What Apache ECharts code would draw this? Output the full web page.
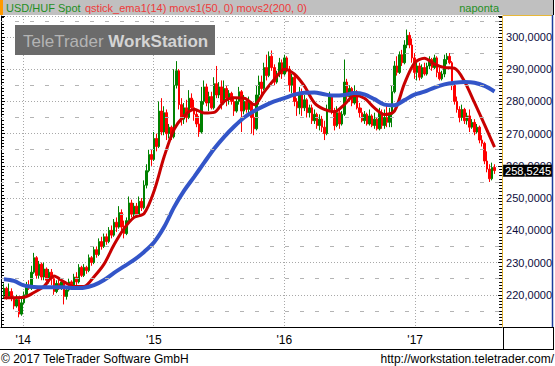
<!DOCTYPE html>
<html><head><meta charset="utf-8">
<script src="https://cdn.jsdelivr.net/npm/echarts@6/dist/echarts.min.js"></script>
<style>html,body{margin:0;padding:0;background:#fff}#c{width:555px;height:366px}</style>
</head><body><div id="c"></div>
<script>
const dates = [
'2013-11-08','2013-11-15','2013-11-22','2013-11-29','2013-12-06','2013-12-13','2013-12-20','2013-12-27',
'2014-01-03','2014-01-10','2014-01-17','2014-01-24','2014-01-31','2014-02-07','2014-02-14','2014-02-21','2014-02-28','2014-03-07','2014-03-14','2014-03-21','2014-03-28','2014-04-04','2014-04-11','2014-04-18','2014-04-25','2014-05-02','2014-05-09','2014-05-16','2014-05-23','2014-05-30','2014-06-06','2014-06-13','2014-06-20','2014-06-27','2014-07-04','2014-07-11','2014-07-18','2014-07-25','2014-08-01','2014-08-08','2014-08-15','2014-08-22','2014-08-29','2014-09-05','2014-09-12','2014-09-19','2014-09-26','2014-10-03','2014-10-10','2014-10-17','2014-10-24','2014-10-31','2014-11-07','2014-11-14','2014-11-21','2014-11-28','2014-12-05','2014-12-12','2014-12-19','2014-12-26',
'2015-01-02','2015-01-09','2015-01-16','2015-01-23','2015-01-30','2015-02-06','2015-02-13','2015-02-20','2015-02-27','2015-03-06','2015-03-13','2015-03-20','2015-03-27','2015-04-03','2015-04-10','2015-04-17','2015-04-24','2015-05-01','2015-05-08','2015-05-15','2015-05-22','2015-05-29','2015-06-05','2015-06-12','2015-06-19','2015-06-26','2015-07-03','2015-07-10','2015-07-17','2015-07-24','2015-07-31','2015-08-07','2015-08-14','2015-08-21','2015-08-28','2015-09-04','2015-09-11','2015-09-18','2015-09-25','2015-10-02','2015-10-09','2015-10-16','2015-10-23','2015-10-30','2015-11-06','2015-11-13','2015-11-20','2015-11-27','2015-12-04','2015-12-11','2015-12-18','2015-12-25',
'2016-01-01','2016-01-08','2016-01-15','2016-01-22','2016-01-29','2016-02-05','2016-02-12','2016-02-19','2016-02-26','2016-03-04','2016-03-11','2016-03-18','2016-03-25','2016-04-01','2016-04-08','2016-04-15','2016-04-22','2016-04-29','2016-05-06','2016-05-13','2016-05-20','2016-05-27','2016-06-03','2016-06-10','2016-06-17','2016-06-24','2016-07-01','2016-07-08','2016-07-15','2016-07-22','2016-07-29','2016-08-05','2016-08-12','2016-08-19','2016-08-26','2016-09-02','2016-09-09','2016-09-16','2016-09-23','2016-09-30','2016-10-07','2016-10-14','2016-10-21','2016-10-28','2016-11-04','2016-11-11','2016-11-18','2016-11-25','2016-12-02','2016-12-09','2016-12-16','2016-12-23','2016-12-30',
'2017-01-06','2017-01-13','2017-01-20','2017-01-27','2017-02-03','2017-02-10','2017-02-17','2017-02-24','2017-03-03','2017-03-10','2017-03-17','2017-03-24','2017-03-31','2017-04-07','2017-04-14','2017-04-21','2017-04-28','2017-05-05','2017-05-12','2017-05-19','2017-05-26','2017-06-02','2017-06-09','2017-06-16','2017-06-23','2017-06-30','2017-07-07','2017-07-14','2017-07-21','2017-07-28','2017-08-04','2017-08-11'];

const opens = [220.0,222.0,219.5,221.0,219.0,216.5,218.5,214.0,217.5,220.0,223.0,222.0,227.0,231.5,226.0,229.5,225.5,228.0,224.5,227.0,
225.0,221.0,223.5,222.0,224.0,219.5,221.5,224.0,222.5,225.5,224.0,228.5,226.0,228.5,227.5,231.5,230.0,234.0,232.5,236.5,
235.0,238.0,236.5,240.0,238.5,242.5,241.0,245.5,241.0,239.0,243.0,248.5,245.0,247.5,245.0,249.0,247.0,254.0,258.5,263.5,
262.0,268.5,266.0,277.0,270.5,276.5,270.0,272.0,269.0,285.0,289.5,279.0,274.5,278.0,275.0,281.0,278.0,276.0,273.0,270.5,
280.0,284.5,279.5,281.5,278.0,285.5,282.0,284.5,279.5,284.0,281.0,282.5,280.0,277.0,280.0,283.0,277.0,280.0,277.5,279.5,
275.0,271.5,282.0,286.0,284.0,290.5,288.0,294.0,290.5,286.0,288.5,292.0,288.5,293.5,290.0,285.0,287.5,280.0,278.0,282.5,
278.0,280.5,276.5,278.0,274.0,276.0,272.5,274.5,272.0,270.0,277.5,281.5,277.0,272.5,276.5,273.0,276.0,286.0,281.5,284.0,
279.5,283.0,278.0,276.5,274.0,276.0,273.0,275.5,272.5,274.5,271.5,276.5,272.5,275.0,273.5,276.0,283.0,291.0,289.0,294.5,
292.0,297.5,300.5,297.5,293.5,289.0,291.0,287.5,290.5,288.5,291.0,293.0,290.5,293.5,289.0,287.0,288.5,293.0,294.0,292.0,
285.0,280.0,277.5,275.0,277.5,274.0,275.5,272.0,273.5,270.5,272.0,268.0,267.0,261.5,259.0,256.0,259.5];
const closes = [222.0,219.5,221.0,219.0,216.5,218.5,214.0,217.5,220.0,223.0,222.0,227.0,231.5,226.0,229.5,225.5,228.0,224.5,227.0,225.0,
221.0,223.5,222.0,224.0,219.5,221.5,224.0,222.5,225.5,224.0,228.5,226.0,228.5,227.5,231.5,230.0,234.0,232.5,236.5,235.0,
238.0,236.5,240.0,238.5,242.5,241.0,245.5,241.0,239.0,243.0,248.5,245.0,247.5,245.0,249.0,247.0,254.0,258.5,263.5,262.0,
268.5,266.0,277.0,270.5,276.5,270.0,272.0,269.0,285.0,289.5,279.0,274.5,278.0,275.0,281.0,278.0,276.0,273.0,270.5,280.0,
284.5,279.5,281.5,278.0,285.5,282.0,284.5,279.5,284.0,281.0,282.5,280.0,277.0,280.0,283.0,277.0,280.0,277.5,279.5,275.0,
271.5,282.0,286.0,284.0,290.5,288.0,294.0,290.5,286.0,288.5,292.0,288.5,293.5,290.0,285.0,287.5,280.0,278.0,282.5,278.0,
280.5,276.5,278.0,274.0,276.0,272.5,274.5,272.0,270.0,277.5,281.5,277.0,272.5,276.5,273.0,276.0,286.0,281.5,284.0,279.5,
283.0,278.0,276.5,274.0,276.0,273.0,275.5,272.5,274.5,271.5,276.5,272.5,275.0,273.5,276.0,283.0,291.0,289.0,294.5,292.0,
297.5,300.5,297.5,293.5,289.0,291.0,287.5,290.5,288.5,291.0,293.0,290.5,293.5,289.0,287.0,288.5,293.0,294.0,292.0,285.0,
280.0,277.5,275.0,277.5,274.0,275.5,272.0,273.5,270.5,272.0,268.0,267.0,261.5,259.0,256.0,259.5,258.5245];
const lows = [219.0,218.5,219.0,218.0,215.5,216.0,213.0,213.5,217.0,219.5,221.5,221.5,226.5,225.0,225.0,224.5,224.5,223.5,223.5,223.0,
220.0,220.5,221.5,221.5,217.0,218.5,221.0,221.5,222.0,223.0,223.5,225.5,225.5,226.5,227.0,229.0,229.5,231.5,232.0,234.0,
234.5,235.5,236.0,237.5,238.0,239.5,240.5,240.0,237.5,238.5,242.5,244.0,244.0,244.0,244.5,246.0,246.5,253.0,258.0,260.0,
261.5,264.5,265.5,269.5,269.5,268.0,268.5,268.0,268.5,284.0,277.5,272.5,273.0,273.5,274.5,277.0,274.0,272.0,269.0,270.0,
279.0,278.5,277.0,277.5,277.5,281.0,281.0,277.5,279.0,278.5,279.0,279.0,275.5,276.5,279.0,270.5,276.0,276.5,275.5,270.0,
269.5,271.0,279.0,281.0,283.5,286.5,287.5,289.5,285.0,285.5,287.5,287.0,288.0,289.0,283.0,282.5,278.5,275.5,276.0,275.5,
277.0,275.0,275.0,273.0,273.0,271.5,271.0,270.5,268.0,269.5,277.0,276.0,271.0,272.0,271.5,272.5,275.5,280.5,280.0,278.5,
279.0,277.5,275.0,273.5,273.0,272.5,272.5,272.0,271.5,271.0,271.0,271.5,271.5,272.0,272.0,272.0,282.5,288.0,288.5,291.0,
291.5,296.5,296.5,292.0,287.0,286.5,286.5,287.0,288.0,288.0,290.0,289.5,290.0,287.5,286.5,286.5,287.5,291.5,291.5,283.5,
279.0,276.5,273.5,274.0,273.0,272.8,270.5,271.5,269.5,270.0,267.0,266.0,260.5,258.0,255.0,255.5,257.5];
const highs = [223.5,222.5,223.5,222.0,219.5,220.0,219.0,219.0,221.0,224.0,224.5,229.0,233.0,232.0,230.5,230.0,230.0,228.5,228.0,228.0,
226.0,224.5,225.0,225.0,224.5,222.5,225.0,224.5,226.5,227.0,229.5,229.0,229.5,229.0,232.5,232.0,235.0,235.0,237.5,238.0,
239.0,239.0,241.0,241.5,243.5,244.0,247.5,246.5,243.0,244.0,250.5,249.5,248.5,248.5,250.5,250.0,255.5,260.5,265.0,265.0,
270.5,270.0,280.0,281.0,278.5,277.5,273.0,272.5,290.0,292.5,290.0,281.0,279.5,280.5,283.5,282.5,280.5,277.5,275.5,284.5,
286.5,285.5,283.0,283.0,287.5,291.0,286.0,286.5,286.5,285.0,283.5,283.0,281.5,281.0,284.5,283.5,282.0,281.0,281.5,280.0,
277.0,285.0,288.0,288.0,292.0,294.5,295.5,295.8,291.5,289.5,293.5,293.0,294.5,294.0,291.0,288.5,288.0,281.0,284.5,284.0,
282.0,281.0,279.0,279.0,277.5,276.5,276.0,275.5,274.0,279.0,283.0,282.0,278.0,278.5,277.5,277.0,293.0,287.0,285.0,284.5,
285.0,283.5,279.5,278.0,277.0,276.5,277.5,276.0,276.5,275.0,278.0,277.5,277.5,279.0,278.0,285.0,292.5,294.0,295.5,296.0,
299.0,302.3,301.5,299.5,295.0,292.5,292.0,291.5,292.0,292.0,294.0,293.5,294.5,294.0,290.5,289.5,294.5,295.0,295.0,292.5,
286.0,281.5,278.5,279.0,278.0,276.5,277.5,274.5,274.5,273.0,272.5,269.5,267.5,264.5,260.5,261.0,260.5];

// moving averages, sampled at every 4th candle date
const redLine = [219.1,219.1,219.2,220.7,222.6,225.8,224.0,222.6,222.6,225.6,
229.5,235.5,240.5,244.0,245.2,252.2,262.8,271.3,275.5,277.6,
276.4,276.6,280.0,281.1,281.0,279.0,283.0,286.8,290.0,288.5,
284.8,279.6,277.5,276.8,279.0,281.8,281.0,278.0,275.9,277.0,
285.5,291.9,293.4,291.6,290.5,290.3,286.2,279.6,272.8,265.8];
const blueLine = [224.8,224.3,222.9,222.4,222.3,222.3,222.3,222.1,222.2,223.0,
224.6,226.8,228.8,230.8,233.3,236.3,241.0,247.2,252.3,256.6,
261.0,265.3,269.0,272.2,275.0,277.0,278.6,280.0,281.0,282.1,
282.7,282.8,282.2,281.8,282.0,282.6,282.2,280.7,279.0,278.8,
280.4,282.1,283.0,284.3,285.3,285.8,286.0,285.8,284.8,283.1];
const lineStep = 4;
const midLevels = [215,225,235,245,255,265,275,285,295,305];
const lastPrice = 258.5245;
const xMin = '2013-10-30 21:00:00', xMax = '2017-09-01 05:00:00';
const yMin = 210, yMax = 306.5, yStep = 10;

const FONT = '"Liberation Sans", Arial, sans-serif';
const chart = echarts.init(document.getElementById('c'), null, {renderer: 'svg'});
const candleData = dates.map((d, i) => [d, opens[i], closes[i], lows[i], highs[i]]);
const redData = redLine.map((v, k) => [dates[k * lineStep], v]);
const blueData = blueLine.map((v, k) => [dates[k * lineStep], v]);
const fmtNum = v => v.toFixed(4).replace('.', ',');
const DAY = 864e5;

const option = {
  animation: false,
  backgroundColor: '#fff',
  grid: {left: 1, right: 52, top: 16, height: 311},
  xAxis: {
    type: 'time', min: xMin, max: xMax,
    minInterval: 365 * DAY, maxInterval: 366 * DAY,
    axisLine: {show: true, lineStyle: {color: '#000', width: 1}},
    axisTick: {show: false},
    splitLine: {show: true, lineStyle: {color: '#a8a8a8', type: [1, 2], width: 1}},
    axisLabel: {
      formatter: v => "'" + String(new Date(v).getFullYear()).slice(2),
      color: '#000', fontSize: 12, fontFamily: FONT, margin: 7,
      showMinLabel: false, showMaxLabel: false
    }
  },
  yAxis: [{
    type: 'value', position: 'right', min: yMin, max: yMax, interval: yStep, scale: true,
    axisLine: {show: true, lineStyle: {color: '#e8b838', width: 1}},
    axisTick: {show: true, inside: true, length: 4, lineStyle: {color: '#000'}},
    minorTick: {show: true, splitNumber: 10, length: 3, lineStyle: {color: '#000'}},
    splitLine: {show: true, lineStyle: {color: '#a8a8a8', type: [1, 2], width: 1}},
    axisLabel: {formatter: fmtNum, color: '#0c0c3c', fontSize: 11, fontFamily: FONT, margin: 4, showMinLabel: false, showMaxLabel: false}
  }, {
    type: 'value', position: 'left', min: yMin, max: yMax, interval: yStep, scale: true,
    axisLine: {show: true, lineStyle: {color: '#000', width: 1}},
    axisTick: {show: true, inside: true, length: 4, lineStyle: {color: '#000'}},
    minorTick: {show: true, splitNumber: 10, length: 3, lineStyle: {color: '#000'}},
    splitLine: {show: false},
    axisLabel: {show: false}
  }],
  series: [{
    type: 'candlestick', name: 'USD/HUF', data: candleData,
    encode: {x: 0, y: [1, 2, 3, 4]},
    barWidth: 2,
    itemStyle: {color: '#008000', color0: '#ff0000', borderColor: '#008000', borderColor0: '#ff0000', borderWidth: 1},
    markLine: {
      silent: true, symbol: ['none', 'none'], animation: false,
      data: midLevels.map(v => ({yAxis: v, lineStyle: {color: '#b4b4b4', type: [4, 11], dashOffset: 1, width: 1}, label: {show: false}}))
        .concat([{yAxis: lastPrice, lineStyle: {color: 'rgba(0,0,0,0)', width: 0}, label: {
          show: true, position: 'end', distance: 1, formatter: fmtNum(lastPrice),
          backgroundColor: '#000', color: '#fff', fontSize: 11, fontFamily: FONT, padding: [1, 2, 0, 2]
        }}])
    }
  }, {
    type: 'line', name: 'movs1', data: redData, showSymbol: false, smooth: 0.3, z: 3,
    lineStyle: {color: '#c80000', width: 3}
  }, {
    type: 'line', name: 'movs2', data: blueData, showSymbol: false, smooth: 0.3, z: 4,
    lineStyle: {color: '#3355c8', width: 4}
  }],
  graphic: [
    {type: 'rect', z: 50, shape: {x: 0, y: 0, width: 553, height: 15}, style: {fill: '#c0c0c0'}},
    {type: 'rect', z: 51, shape: {x: 0, y: 0, width: 3, height: 15}, style: {fill: '#ff9900'}},
    {type: 'text', z: 52, x: 6, y: 8, style: {text: 'USD/HUF Spot', fill: '#1f8f1f', font: '11px ' + FONT, textVerticalAlign: 'middle', verticalAlign: 'middle'}},
    {type: 'text', z: 52, x: 85, y: 8, style: {text: 'qstick_ema1(14) movs1(50, 0) movs2(200, 0)', fill: '#ee3a3a', font: '11px ' + FONT, textVerticalAlign: 'middle', verticalAlign: 'middle'}},
    {type: 'text', z: 52, x: 499, y: 8, style: {text: 'naponta', fill: '#1f8f1f', font: '11px ' + FONT, textAlign: 'right', align: 'right', textVerticalAlign: 'middle', verticalAlign: 'middle'}},
    {type: 'line', z: 52, shape: {x1: 553.5, y1: 0, x2: 553.5, y2: 15}, style: {stroke: '#000', lineWidth: 1}},
    {type: 'line', z: 52, shape: {x1: 503, y1: 15.5, x2: 553, y2: 15.5}, style: {stroke: '#e8b838', lineWidth: 1}},
    {type: 'line', z: 52, shape: {x1: 552.5, y1: 15, x2: 552.5, y2: 327}, style: {stroke: '#1c3c9c', lineWidth: 1.5}},
    {type: 'rect', z: 60, shape: {x: 15, y: 25, width: 200, height: 30}, style: {fill: '#6b6b6b'}},
    {type: 'text', z: 61, x: 23, y: 41, style: {
      text: '{a|TeleTrader }{b|WorkStation}', textVerticalAlign: 'middle', verticalAlign: 'middle',
      rich: {a: {fill: '#b4b4b4', color: '#b4b4b4', fontSize: 17, fontFamily: FONT}, b: {fill: '#d4d4d4', color: '#d4d4d4', fontSize: 17, fontWeight: 'bold', fontFamily: FONT}}
    }},
    {type: 'line', z: 52, shape: {x1: 0, y1: 349.5, x2: 554, y2: 349.5}, style: {stroke: '#000', lineWidth: 1}},
    {type: 'line', z: 52, shape: {x1: 503.5, y1: 327, x2: 503.5, y2: 349}, style: {stroke: '#000', lineWidth: 1}},
    {type: 'line', z: 52, shape: {x1: 553.5, y1: 327, x2: 553.5, y2: 349}, style: {stroke: '#000', lineWidth: 1}},
    {type: 'line', z: 52, shape: {x1: 503, y1: 327.5, x2: 553, y2: 327.5}, style: {stroke: '#000', lineWidth: 1}},
    {type: 'text', z: 52, x: 1, y: 358.5, style: {text: '\u00a9 2017 TeleTrader Software GmbH', fill: '#000', font: '12px ' + FONT, textVerticalAlign: 'middle', verticalAlign: 'middle'}},
    {type: 'text', z: 52, x: 554, y: 358.5, style: {text: 'http://workstation.teletrader.com/', fill: '#000', font: '12px ' + FONT, textAlign: 'right', align: 'right', textVerticalAlign: 'middle', verticalAlign: 'middle'}}
  ]
};
chart.setOption(option);
</script></body></html>
